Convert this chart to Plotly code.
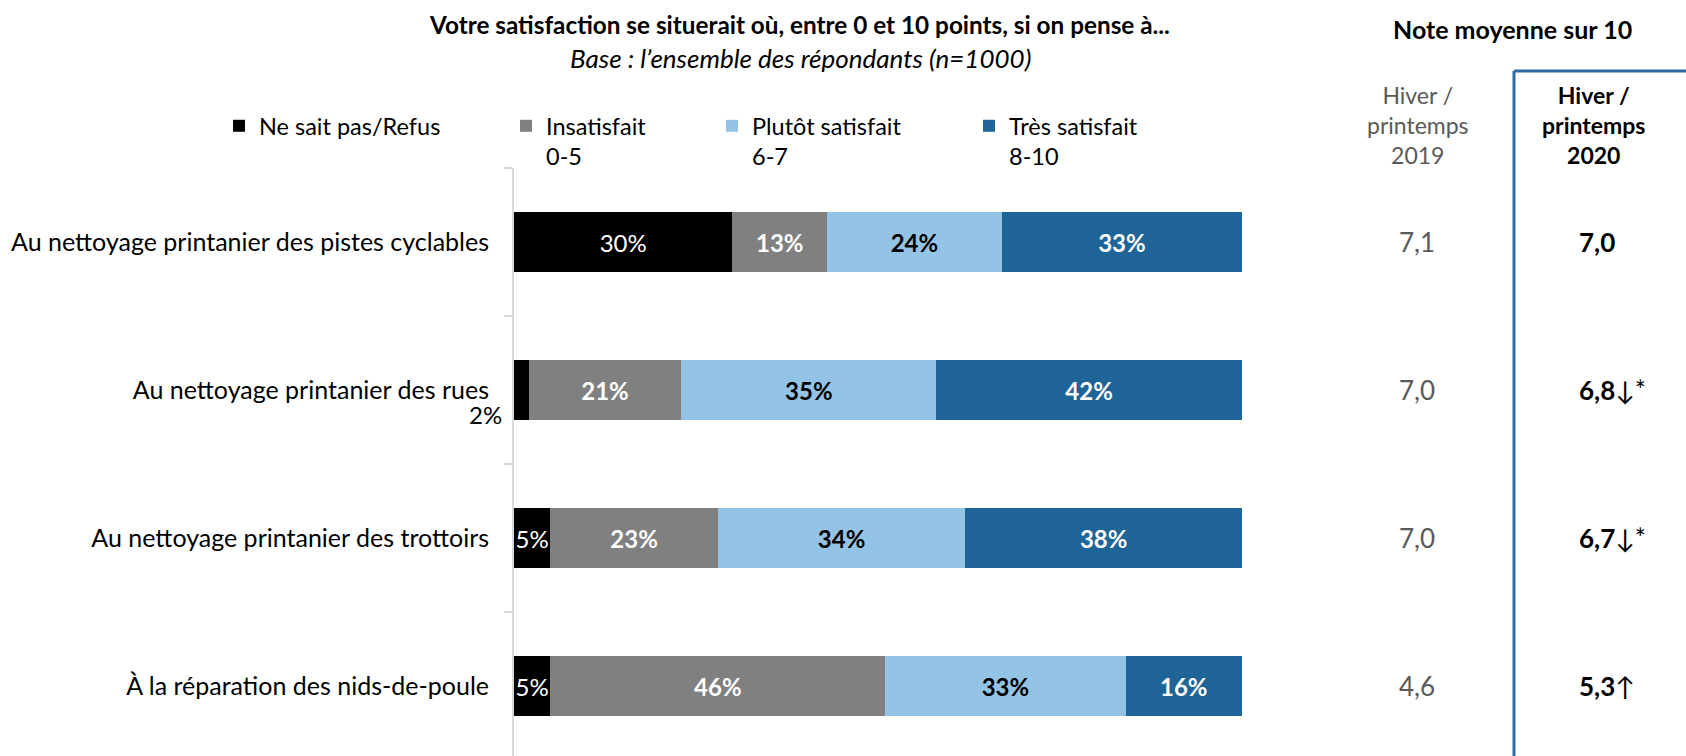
import plotly.graph_objects as go

# --- data -------------------------------------------------------------
categories = [
    "Au nettoyage printanier des pistes cyclables",
    "Au nettoyage printanier des rues",
    "Au nettoyage printanier des trottoirs",
    "À la réparation des nids-de-poule",
]
ne_sait_pas = [30, 2, 5, 5]
insatisfait = [13, 21, 23, 46]
plutot_satisfait = [24, 35, 34, 33]
tres_satisfait = [33, 42, 38, 16]

series_names = ["Ne sait pas/Refus", "Insatisfait<br>0-5", "Plutôt satisfait<br>6-7", "Très satisfait<br>8-10"]

note_2019 = [7.1, 7.0, 7.0, 4.6]
note_2020 = [7.0, 6.8, 6.7, 5.3]
trend_2020 = ["", "↓*", "↓*", "↑"]

# --- style ------------------------------------------------------------
FONT = "Lato"
W, H = 1686, 756
C_BLACK = "#000000"
C_GREY = "#808080"
C_LIGHT = "#93C3E5"
C_DARK = "#1F6496"
C_BOX = "#2E6DA4"
C_AXIS = "#D9D9D9"

BAR_TXT = 24
PLOT_X0, PLOT_X1 = 514, 1242     # pixel extent of the bar area
ROW0, ROW_STEP = 242, 148        # pixel centre of first row, row spacing
PLOT_TOP = ROW0 - ROW_STEP / 2

def px(x):
    return x / W

def py(y):
    return 1 - y / H

def fmt(v):
    return f"{v:.1f}".replace(".", ",")

fig = go.Figure()

def add_series(values, name, color, txtcolor, bold, legend, hide_small=False):
    texts = []
    for v in values:
        if hide_small and v < 3:
            texts.append("")
        else:
            texts.append(f"{v}%")
    fig.add_trace(go.Bar(
        y=categories, x=values, name=name, orientation="h",
        marker=dict(color=color, line=dict(width=0)),
        text=texts, textposition="inside", insidetextanchor="middle",
        textangle=0, constraintext="none",
        textfont=dict(family=FONT, size=BAR_TXT, color=txtcolor,
                      weight="bold" if bold else "normal"),
        legend=legend, hoverinfo="skip",
    ))

add_series(ne_sait_pas, series_names[0], C_BLACK, "white", False, "legend", hide_small=True)
add_series(insatisfait, series_names[1], C_GREY, "white", True, "legend2")
add_series(plutot_satisfait, series_names[2], C_LIGHT, "black", True, "legend3")
add_series(tres_satisfait, series_names[3], C_DARK, "white", True, "legend4")

annotations = []

# small share shown outside the bar, below the axis label
for cat, v in zip(categories, ne_sait_pas):
    if v < 3:
        annotations.append(dict(
            x=0, y=cat, xref="x", yref="y", text=f"{v}%", showarrow=False,
            xanchor="right", yanchor="middle", xshift=-10, yshift=-24,
            font=dict(family=FONT, size=BAR_TXT, color="black")))

# titles
annotations += [
    dict(x=px(799), y=py(24), xref="paper", yref="paper", showarrow=False,
         text="<b>Votre satisfaction se situerait où, entre 0 et 10 points, si on pense à...</b>",
         xanchor="center", yanchor="middle", font=dict(family=FONT, size=24.3, color="black")),
    dict(x=px(800), y=py(58), xref="paper", yref="paper", showarrow=False,
         text="<i>Base : l’ensemble des répondants (n=1000)</i>",
         xanchor="center", yanchor="middle", font=dict(family=FONT, size=26, color="black")),
    dict(x=px(1512), y=py(29), xref="paper", yref="paper", showarrow=False,
         text="<b>Note moyenne sur 10</b>",
         xanchor="center", yanchor="middle", font=dict(family=FONT, size=25, color="black")),
    dict(x=px(1418), y=py(125), xref="paper", yref="paper", showarrow=False,
         text="Hiver /<br>printemps<br>2019",
         xanchor="center", yanchor="middle", font=dict(family=FONT, size=23, color="#595959")),
    dict(x=px(1593), y=py(125), xref="paper", yref="paper", showarrow=False,
         text="<b>Hiver /<br>printemps<br>2020</b>",
         xanchor="center", yanchor="middle", font=dict(family=FONT, size=23, color="black")),
]

# average scores
for cat, a, b, t in zip(categories, note_2019, note_2020, trend_2020):
    annotations.append(dict(
        x=px(1417), y=cat, xref="paper", yref="y", text=fmt(a), showarrow=False,
        xanchor="center", yanchor="middle", font=dict(family=FONT, size=26, color="#595959")))
    annotations.append(dict(
        x=px(1577), y=cat, xref="paper", yref="y", text=f"<b>{fmt(b)}</b>{t}", showarrow=False,
        xanchor="left", yanchor="middle", font=dict(family=FONT, size=26, color="black")))

# frame around the 2020 column
shapes = [
    dict(type="line", xref="paper", yref="paper", x0=px(1514), x1=px(1514), y0=py(71), y1=0,
         line=dict(color=C_BOX, width=3)),
    dict(type="line", xref="paper", yref="paper", x0=px(1514), x1=1, y0=py(71), y1=py(71),
         line=dict(color=C_BOX, width=3)),
]

legend_common = dict(orientation="h", xanchor="left", yanchor="top", valign="top",
                     bgcolor="rgba(0,0,0,0)", borderwidth=0,
                     font=dict(family=FONT, size=23.5, color="black"))
leg_y = py(104)

y_bottom = (H - ROW0) / ROW_STEP

fig.update_layout(
    width=W, height=H,
    margin=dict(l=0, r=0, t=0, b=0),
    paper_bgcolor="white", plot_bgcolor="white",
    barmode="stack", bargap=1 - 60 / ROW_STEP,
    showlegend=True,
    uniformtext=dict(mode="show", minsize=BAR_TXT),
    legend=dict(x=px(259 - 40), y=leg_y, **legend_common),
    legend2=dict(x=px(546 - 40), y=leg_y, **legend_common),
    legend3=dict(x=px(752 - 40), y=leg_y, **legend_common),
    legend4=dict(x=px(1009 - 40), y=leg_y, **legend_common),
    xaxis=dict(domain=[px(PLOT_X0), px(PLOT_X1)], range=[0, 100], visible=False, fixedrange=True),
    yaxis=dict(domain=[0, py(PLOT_TOP)], type="category", categoryarray=categories,
               range=[y_bottom, -0.5], showline=True, linecolor=C_AXIS, linewidth=2,
               tickson="boundaries", ticks="outside", ticklen=8, tickcolor=C_AXIS, tickwidth=2,
               ticklabelstandoff=18, showgrid=False, zeroline=False,
               tickfont=dict(family=FONT, size=25, color="black")),
    annotations=annotations,
    shapes=shapes,
)

fig.write_html("out.html")
